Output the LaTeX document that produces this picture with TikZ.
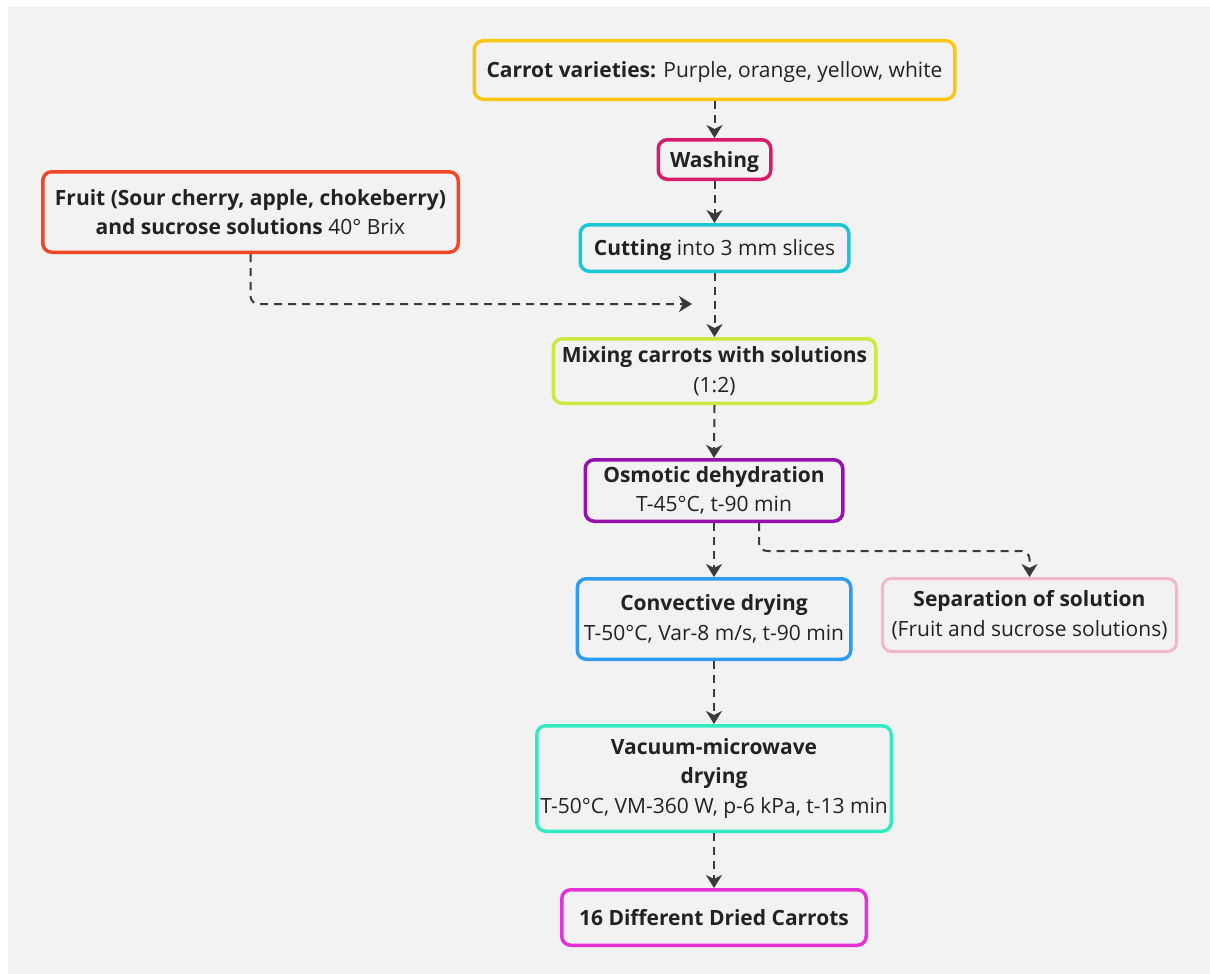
\documentclass[tikz,border=0pt]{standalone}
\usepackage{fontspec}
\setmainfont{Open Sans}
\usetikzlibrary{arrows.meta}
\definecolor{bg}{HTML}{F2F2F2}
\definecolor{txt}{HTML}{222222}
\definecolor{conncol}{HTML}{3A3A3A}
\definecolor{cyellow}{HTML}{FAC710}
\definecolor{cwash}{HTML}{D81B6A}
\definecolor{cfruit}{HTML}{F24726}
\definecolor{ccut}{HTML}{1AC6D3}
\definecolor{cmix}{HTML}{CEE741}
\definecolor{cosm}{HTML}{9510AC}
\definecolor{cconv}{HTML}{2D9BF0}
\definecolor{csep}{HTML}{F2B8C6}
\definecolor{cvac}{HTML}{33EBC0}
\definecolor{cfinal}{HTML}{E532D6}
\tikzset{
  box/.style={draw, line width=3.5pt, rounded corners=9pt, align=center,
    inner sep=0pt, text=txt, font=\fontsize{21}{29.5}\selectfont},
  lowtext/.style={text depth=0pt},
  conn/.style={draw=conncol, line width=2pt, dash pattern=on 8pt off 6pt,
    -{Stealth[length=13pt,width=16pt,inset=4pt]}}
}
\begin{document}
\begin{tikzpicture}[x=1pt,y=-1pt]
\useasboundingbox (0,0) rectangle (1210,974);
\fill[bg] (8,7) rectangle (1210,974);

\node[box, lowtext, draw=cyellow, minimum width=480.5pt, minimum height=58.5pt] (carrot) at (714.5,70)
  {\textbf{Carrot varieties:} Purple, orange, yellow, white};
\node[box, lowtext, draw=cwash, minimum width=112.5pt, minimum height=39.5pt] (wash) at (714.5,159.5)
  {\textbf{Washing}};
\node[box, draw=cfruit, minimum width=415.5pt, minimum height=80.5pt] (fruit) at (250.5,212)
  {\textbf{Fruit (Sour cherry, apple, chokeberry)}\\\textbf{and sucrose solutions} 40° Brix};
\node[box, lowtext, draw=ccut, minimum width=268.5pt, minimum height=46.5pt] (cut) at (714.5,248)
  {\textbf{Cutting} into 3 mm slices};
\node[box, draw=cmix, minimum width=322.5pt, minimum height=64.5pt] (mix) at (714.5,371)
  {\textbf{Mixing carrots with solutions}\\(1:2)};
\node[box, draw=cosm, minimum width=257.5pt, minimum height=61.5pt] (osm) at (714,490.5)
  {\textbf{Osmotic dehydration}\\T-45°C, t-90 min};
\node[box, draw=cconv, minimum width=273.5pt, minimum height=80.5pt] (conv) at (714,619)
  {\textbf{Convective drying}\\T-50°C, Var-8 m/s, t-90 min};
\node[box, draw=csep, line width=3pt, minimum width=294pt, minimum height=73pt] (sep) at (1029.5,615)
  {\textbf{Separation of solution}\\(Fruit and sucrose solutions)};
\node[box, draw=cvac, minimum width=354.5pt, minimum height=105.5pt] (vac) at (714,778.5)
  {\textbf{Vacuum-microwave}\\\textbf{drying}\\T-50°C, VM-360 W, p-6 kPa, t-13 min};
\node[box, draw=cfinal, minimum width=304.5pt, minimum height=55.5pt] (final) at (714,917.5)
  {\textbf{16 Different Dried Carrots}};

\coordinate (fruitend) at (692,304);
\coordinate (sepbend) at (1029.5,551);

\draw[conn] (carrot.south) -- (wash.north);
\draw[conn] (wash.south) -- (cut.north);
\draw[conn] (cut.south) -- (mix.north);
\draw[conn, rounded corners=8pt] (fruit.south) |- (fruitend);
\draw[conn] (mix.south) -- (osm.north);
\draw[conn] (osm.south) -- (conv.north);
\draw[conn, rounded corners=8pt] ([xshift=45pt]osm.south) |- (sepbend) -- (sep.north);
\draw[conn] (conv.south) -- (vac.north);
\draw[conn] (vac.south) -- (final.north);
\end{tikzpicture}
\end{document}
